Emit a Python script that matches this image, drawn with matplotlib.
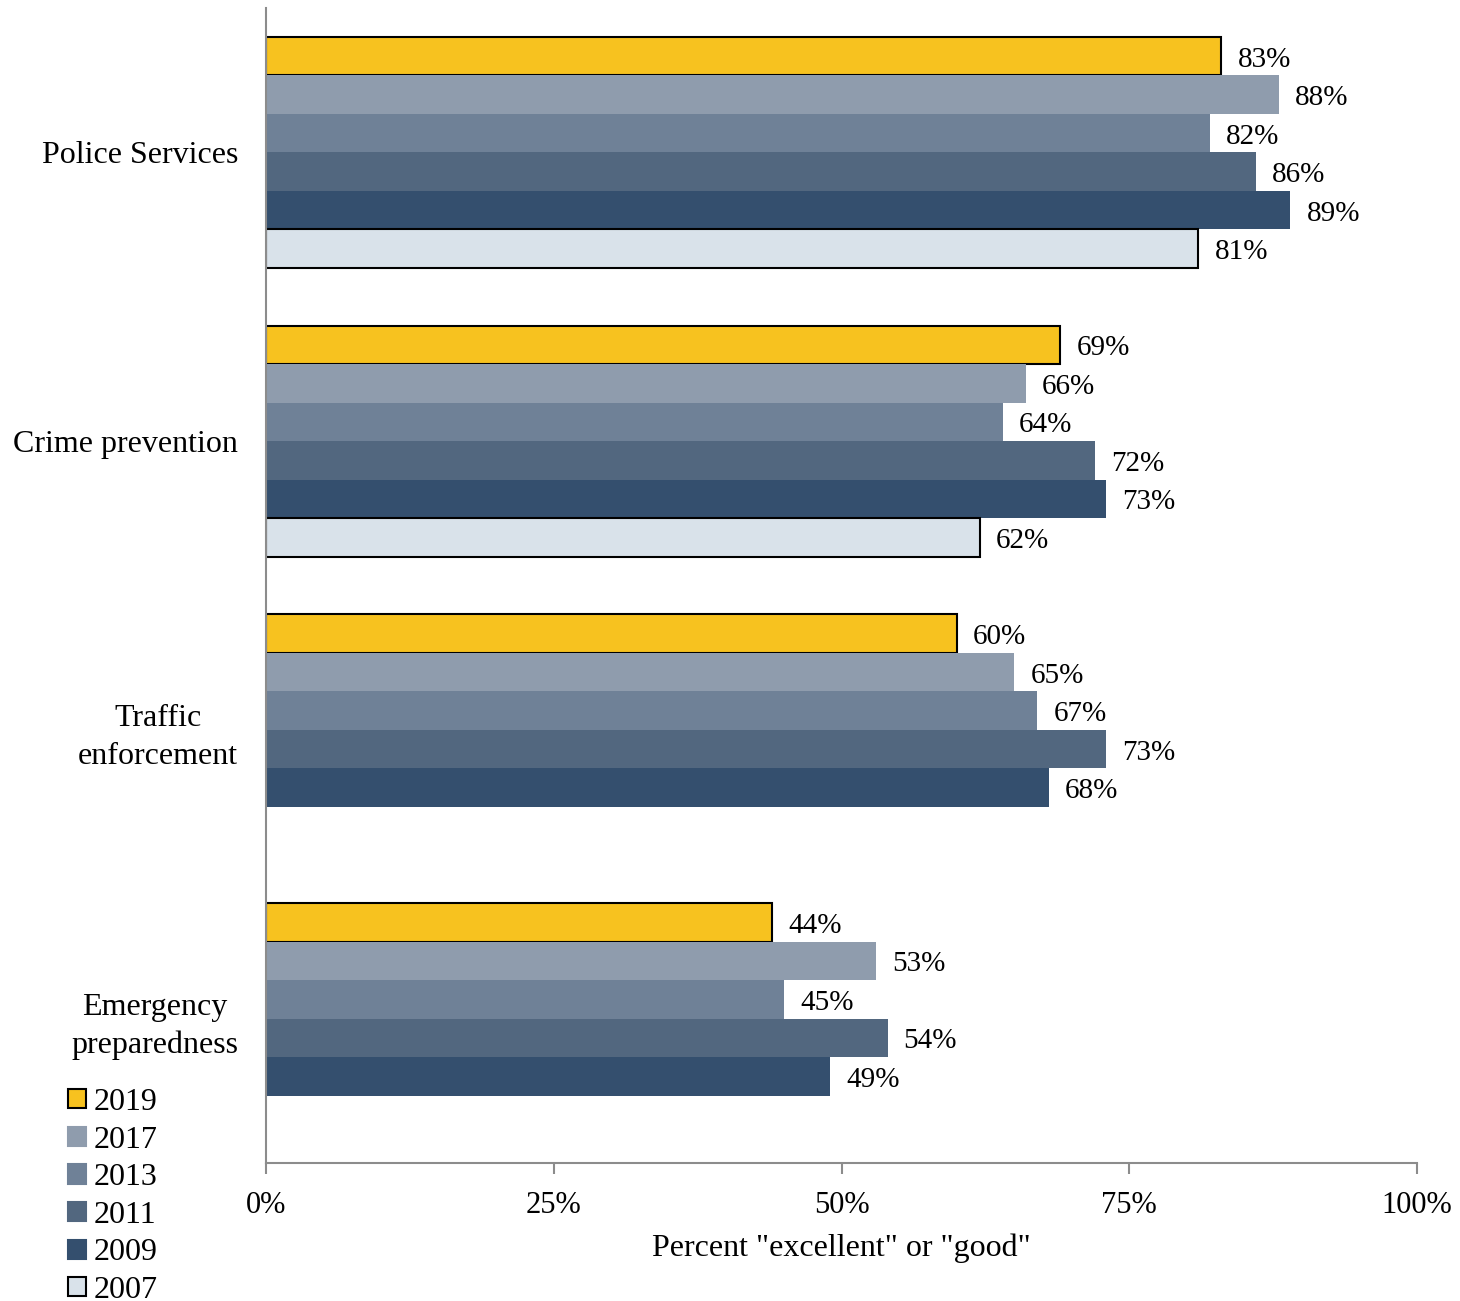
import numpy as np
import matplotlib
matplotlib.use("Agg")
import matplotlib.pyplot as plt
from matplotlib.patches import Patch

plt.rcParams['font.family'] = ['Liberation Serif', 'DejaVu Serif']

categories = ["Police Services", "Crime prevention", "Traffic\nenforcement", "Emergency\npreparedness"]
years = ["2019", "2017", "2013", "2011", "2009", "2007"]
colors = ["#F7C21F", "#8F9CAD", "#6F8197", "#52677F", "#344F6E", "#D9E2EA"]
edges = ["black", "none", "none", "none", "none", "black"]

# values per year, in category order (None = not asked)
v2019 = [83, 69, 60, 44]
v2017 = [88, 66, 65, 53]
v2013 = [82, 64, 67, 45]
v2011 = [86, 72, 73, 54]
v2009 = [89, 73, 68, 49]
v2007 = [81, 62, None, None]
series = [v2019, v2017, v2013, v2011, v2009, v2007]

fig = plt.figure(figsize=(14.6, 13.01), dpi=100)
ax = fig.add_axes([266/1460, 1 - 1163/1301, (1417-266)/1460, (1163-8)/1301])

n = len(years)
h = 0.8 / n
for j, vals in enumerate(series):
    for i, v in enumerate(vals):
        if v is None:
            continue
        y = i - 0.4 + h * (j + 0.5)
        lw = 1.5 if edges[j] != "none" else 0
        ax.barh(y, v, height=h, color=colors[j], edgecolor=edges[j], linewidth=lw)
        ax.text(v + 1.4, y + 0.012, f"{v}%", va="center", ha="left", fontsize=21)

ax.set_ylim(3.5, -0.5)
ax.set_xlim(0, 100)
ax.set_yticks(range(len(categories)))
ax.set_yticklabels(categories, fontsize=23, linespacing=1.38, multialignment="center")
ax.tick_params(axis="y", length=0, pad=20)
ax.set_xticks([0, 25, 50, 75, 100])
ax.set_xticklabels(["0%", "25%", "50%", "75%", "100%"], fontsize=22)
ax.tick_params(axis="x", length=8, color="#8c8c8c", width=1.5, pad=12)
ax.set_xlabel('Percent "excellent" or "good"', fontsize=23, labelpad=10)
for s in ["top", "right"]:
    ax.spines[s].set_visible(False)
for s in ["left", "bottom"]:
    ax.spines[s].set_color("#8c8c8c")
    ax.spines[s].set_linewidth(1.5)

handles = [Patch(facecolor=c, edgecolor=("black" if e != "none" else c), linewidth=1.5)
           for c, e in zip(colors, edges)]
fig.legend(handles, years, loc="upper left", bbox_to_anchor=(68/1460, 1 - 1088/1301),
           frameon=False, fontsize=23, handlelength=0.55, handleheight=0.55,
           handletextpad=0.25, labelspacing=0.27, borderpad=0, borderaxespad=0)

fig.savefig("out.png", dpi=100)
